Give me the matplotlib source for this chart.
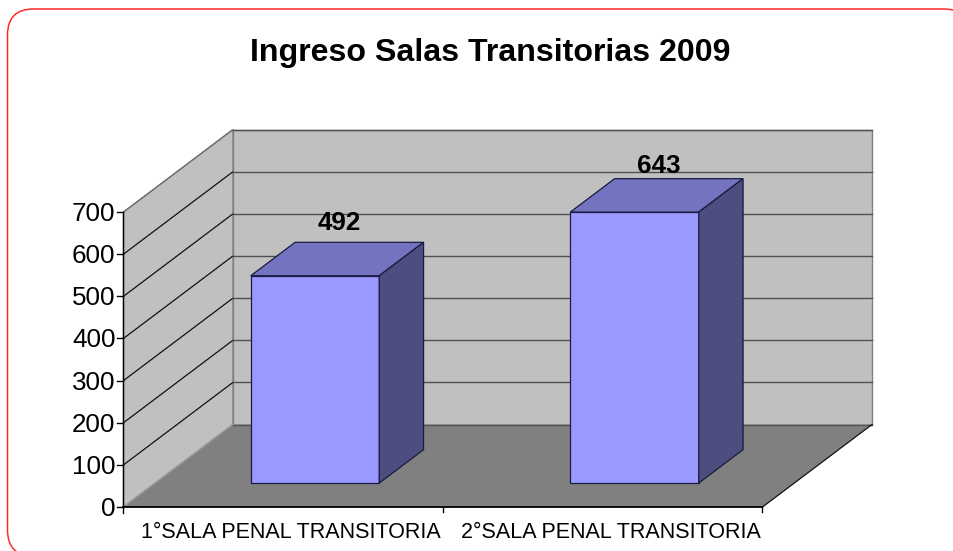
import matplotlib
matplotlib.use("Agg")
import matplotlib.pyplot as plt
from matplotlib.patches import FancyBboxPatch, Polygon

plt.rcParams['font.family'] = ['Liberation Sans', 'DejaVu Sans']

title = "Ingreso Salas Transitorias 2009"
categories = ["1°SALA PENAL TRANSITORIA", "2°SALA PENAL TRANSITORIA"]
values = [492, 643]
y_ticks = [0, 100, 200, 300, 400, 500, 600, 700]
label_raise = [23, 17]

W, H = 954, 551
X0, Y0 = 123.5, 507.0
PLOT_W, PLOT_H = 639.0, 295.0
DX, DY = 109.5, 82.5
VMAX = 700.0
BAR_W = 0.402
D_FRONT, D_BACK = 0.29, 0.695


def proj(cat, val, depth=0.0):
    """cat: category units (0..n), val: data value, depth: 0 front .. 1 back."""
    x = X0 + cat / len(categories) * PLOT_W + depth * DX
    y = Y0 - val / VMAX * PLOT_H - depth * DY
    return (x, y)


fig = plt.figure(figsize=(W / 100, H / 100), dpi=100, facecolor="white")
ax = fig.add_axes([0, 0, 1, 1])
ax.set_xlim(0, W)
ax.set_ylim(H, 0)
ax.axis("off")

frame = FancyBboxPatch((7.5 + 26, 9 + 26), 970 - 7.5 - 52, 556 - 9 - 52,
                       boxstyle="round,pad=26,rounding_size=26",
                       fc="white", ec="#ff2a2a", lw=1.1, zorder=0)
ax.add_patch(frame)

n = len(categories)
EDGE = "#808080"
# walls and floor
ax.add_patch(Polygon([proj(0, 0, 1), proj(n, 0, 1), proj(n, VMAX, 1), proj(0, VMAX, 1)],
                     fc="#c0c0c0", ec=EDGE, lw=1, zorder=1))
ax.add_patch(Polygon([proj(0, 0, 0), proj(0, 0, 1), proj(0, VMAX, 1), proj(0, VMAX, 0)],
                     fc="#c0c0c0", ec=EDGE, lw=1, zorder=1))
ax.add_patch(Polygon([proj(0, 0, 0), proj(n, 0, 0), proj(n, 0, 1), proj(0, 0, 1)],
                     fc="#808080", ec="none", lw=0, zorder=1))

# gridlines
for t in y_ticks:
    if t > 0:
        a, b, c = proj(0, t, 0), proj(0, t, 1), proj(n, t, 1)
        ax.plot([a[0], b[0]], [a[1], b[1]], color="#111111" if t < VMAX else "#707070",
                lw=0.9, zorder=2, solid_capstyle="butt")
        ax.plot([b[0], c[0]], [b[1], c[1]], color="#505050", lw=1.0, zorder=2)
a, b, c, d = proj(0, 0, 0), proj(n, 0, 0), proj(n, 0, 1), proj(0, 0, 1)
ax.plot([d[0], c[0]], [d[1], c[1]], color="#555555", lw=1.0, zorder=2)
ax.plot([a[0], d[0]], [a[1], d[1]], color="#999999", lw=0.9, zorder=2)
ax.plot([b[0], c[0]], [b[1], c[1]], color="#111111", lw=0.9, zorder=2)

# bars
for i, v in enumerate(values):
    left = i + 0.5 - BAR_W / 2
    right = i + 0.5 + BAR_W / 2
    ec = "#1a1a40"
    ax.add_patch(Polygon([proj(left, 0, D_FRONT), proj(right, 0, D_FRONT),
                          proj(right, v, D_FRONT), proj(left, v, D_FRONT)],
                         fc="#9999ff", ec=ec, lw=0.9, zorder=3))
    ax.add_patch(Polygon([proj(left, v, D_FRONT), proj(right, v, D_FRONT),
                          proj(right, v, D_BACK), proj(left, v, D_BACK)],
                         fc="#7373bf", ec=ec, lw=0.9, zorder=3))
    ax.add_patch(Polygon([proj(right, 0, D_FRONT), proj(right, 0, D_BACK),
                          proj(right, v, D_BACK), proj(right, v, D_FRONT)],
                         fc="#4d4d80", ec=ec, lw=0.9, zorder=3))
    lx, ly = proj(i + 0.5, v, 0.5)
    ax.text(lx + 1.5, ly - label_raise[i], str(v), ha="center", va="bottom",
            fontsize=18.7, fontweight="bold", color="black", zorder=4)

# axes lines and ticks
ax.plot([X0, X0], [proj(0, 0)[1] + 6, proj(0, VMAX)[1]], color="black", lw=1.0, zorder=5)
ax.plot([X0, X0 + PLOT_W], [Y0, Y0], color="black", lw=1.3, zorder=5)
for t in y_ticks:
    x, y = proj(0, t)
    ax.plot([x - 6, x], [y, y], color="black", lw=1.0, zorder=5)
    ax.text(x - 8, y + 2, str(t), ha="right", va="center", fontsize=18.7, color="black")
for k in range(1, n + 1):
    x, y = proj(k, 0)
    ax.plot([x, x], [y, y + 5], color="black", lw=1.0, zorder=5)
for i, c in enumerate(categories):
    x, y = proj(i + 0.5, 0)
    ax.text(x + 8, y + 26, c, ha="center", va="center", fontsize=15.5, color="black")

ax.text(490, 53, title, ha="center", va="center", fontsize=23.1,
        fontweight="bold", color="black")

fig.savefig("out.png", dpi=100)
